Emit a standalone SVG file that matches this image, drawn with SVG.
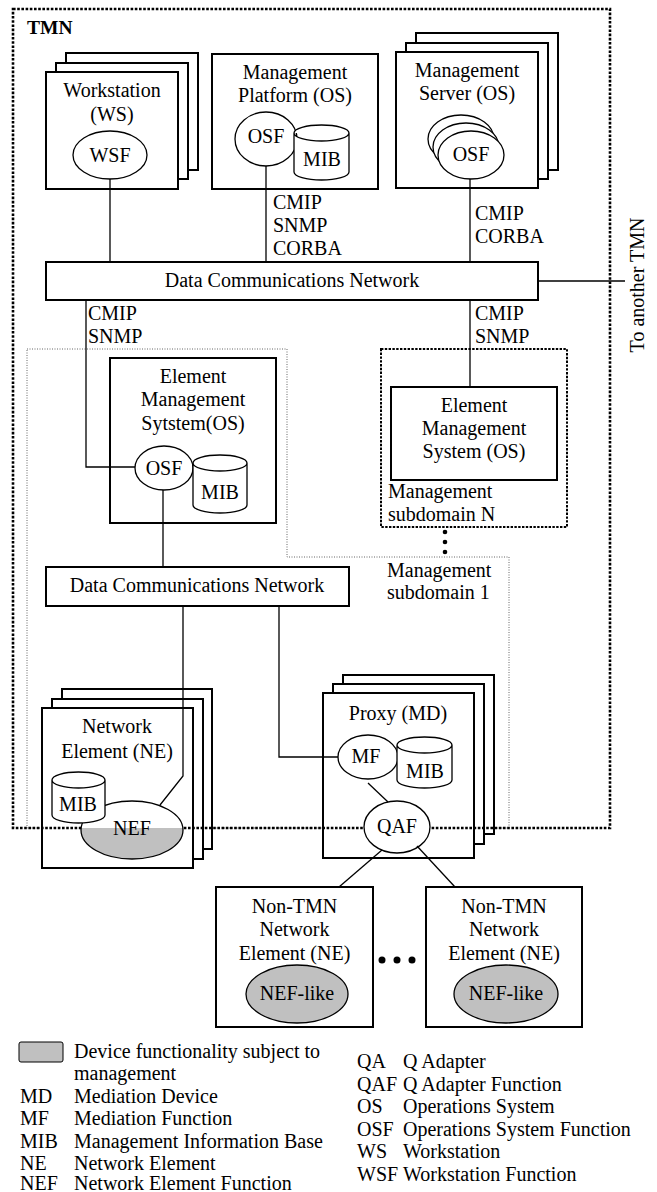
<svg xmlns="http://www.w3.org/2000/svg" width="657" height="1192" viewBox="0 0 657 1192" font-family="'Liberation Serif', 'DejaVu Serif', serif">
<style>
text{font-family:'Liberation Serif','DejaVu Serif',serif;font-size:20px;fill:#000}
.c{text-anchor:middle}
.b{font-weight:bold;font-size:19.5px}
.box{fill:#fff;stroke:#000;stroke-width:2}
.el{fill:#fff;stroke:#000;stroke-width:1.3}
.gray{fill:#c0c0c0;stroke:#000;stroke-width:1.3}
.cyl{fill:#fff;stroke:#000;stroke-width:1.3}
.ln{fill:none;stroke:#000;stroke-width:1.3}
.tmn{fill:none;stroke:#000;stroke-width:2.6;stroke-dasharray:2.6 1.6}
.sdn{fill:none;stroke:#000;stroke-width:2;stroke-dasharray:2.4 1.4}
.sd1{fill:none;stroke:#666;stroke-width:1;stroke-dasharray:1 1.5}
</style>
<defs>
<clipPath id="lowerNEF"><rect x="70" y="828" width="130" height="40"/></clipPath>
<mask id="tmnMask" maskUnits="userSpaceOnUse" x="0" y="0" width="657" height="1192">
<rect x="0" y="0" width="657" height="1192" fill="#fff"/>
<ellipse cx="132" cy="830" rx="51" ry="29" fill="#000"/>
<ellipse cx="397" cy="827" rx="33" ry="26" fill="#000"/>
</mask>
</defs>

<g id="subdomain1">
<polygon class="sd1" points="27,349 287,349 287,557 509,557 509,828 27,828"/>
<text x="387" y="577">Management</text>
<text x="387" y="599">subdomain 1</text>
</g>

<g id="subdomainN">
<rect class="sdn" x="381" y="349" width="186" height="178"/>
<text x="388" y="498">Management</text>
<text x="388" y="521">subdomain N</text>
<circle cx="445" cy="532" r="2.3"/>
<circle cx="445" cy="542" r="2.3"/>
<circle cx="445" cy="552" r="2.3"/>
</g>

<g id="workstation">
<rect class="box" x="66" y="53" width="132" height="117"/>
<rect class="box" x="56" y="63" width="132" height="116"/>
<rect class="box" x="46" y="72" width="132" height="117"/>
<text class="c" x="112" y="97">Workstation</text>
<text class="c" x="112" y="121">(WS)</text>
<ellipse class="el" cx="110" cy="155" rx="37" ry="24"/>
<text class="c" x="110" y="162">WSF</text>
</g>

<g id="platform">
<rect class="box" x="212" y="54" width="166" height="135"/>
<text class="c" x="295" y="79">Management</text>
<text class="c" x="295" y="102">Platform (OS)</text>
<ellipse class="el" cx="266" cy="139" rx="31" ry="27"/>
<text class="c" x="266" y="143">OSF</text>
<path class="cyl" d="M294,133 A27.5,8 0 0 1 349,133 V172 A27.5,8 0 0 1 294,172 Z M294,133 A27.5,8 0 0 0 349,133"/>
<text class="c" x="322" y="166">MIB</text>
</g>

<g id="server">
<rect class="box" x="416" y="33" width="142" height="137"/>
<rect class="box" x="406" y="43" width="142" height="136"/>
<rect class="box" x="396" y="52" width="142" height="136"/>
<text class="c" x="467" y="77">Management</text>
<text class="c" x="467" y="100">Server (OS)</text>
<ellipse class="el" cx="461" cy="139" rx="33" ry="24"/>
<ellipse class="el" cx="466" cy="147" rx="33" ry="24"/>
<ellipse class="el" cx="471" cy="155" rx="33" ry="24"/>
<text class="c" x="471" y="161">OSF</text>
</g>

<g id="dcn1">
<rect class="box" x="46" y="262" width="492" height="38"/>
<text class="c" x="292" y="287" font-size="20.4">Data Communications Network</text>
</g>

<g id="ems1">
<rect class="box" x="110" y="358" width="166" height="165"/>
<text class="c" x="193" y="383">Element</text>
<text class="c" x="193" y="406">Management</text>
<text class="c" x="193" y="430">Sytstem(OS)</text>
<ellipse class="el" cx="164" cy="468" rx="29" ry="22"/>
<text class="c" x="164" y="475">OSF</text>
<path class="cyl" d="M193,463 A27,8 0 0 1 247,463 V505 A27,8 0 0 1 193,505 Z M193,463 A27,8 0 0 0 247,463"/>
<text class="c" x="220" y="499">MIB</text>
</g>

<g id="emsN">
<rect class="box" x="391" y="387" width="166" height="93"/>
<text class="c" x="474" y="412">Element</text>
<text class="c" x="474" y="435">Management</text>
<text class="c" x="474" y="458">System (OS)</text>
</g>

<g id="dcn2">
<rect class="box" x="46" y="567" width="303" height="39"/>
<text class="c" x="197" y="592" font-size="20.4">Data Communications Network</text>
</g>

<g id="ne">
<rect class="box" x="62" y="689" width="150" height="160"/>
<rect class="box" x="52" y="699" width="151" height="160"/>
<rect class="box" x="42" y="708" width="151" height="160"/>
<text class="c" x="117" y="733">Network</text>
<text class="c" x="117" y="758">Element (NE)</text>
<ellipse cx="132" cy="830" rx="51" ry="29" fill="#fff"/>
<ellipse cx="132" cy="830" rx="51" ry="29" fill="#c0c0c0" clip-path="url(#lowerNEF)"/>
<ellipse cx="132" cy="830" rx="51" ry="29" fill="none" stroke="#000" stroke-width="1.3"/>
<path class="cyl" d="M52,780 A26.5,8 0 0 1 105,780 V815 A26.5,8 0 0 1 52,815 Z M52,780 A26.5,8 0 0 0 105,780"/>
<text class="c" x="78" y="811">MIB</text>
<text class="c" x="132" y="835">NEF</text>
</g>

<g id="proxy">
<rect class="box" x="343" y="675" width="151" height="159"/>
<rect class="box" x="333" y="684" width="151" height="160"/>
<rect class="box" x="323" y="693" width="151" height="165"/>
<text class="c" x="398" y="720">Proxy (MD)</text>
<ellipse class="el" cx="368" cy="757" rx="30" ry="22"/>
<text class="c" x="366" y="763">MF</text>
<path class="cyl" d="M397,745 A27.5,8 0 0 1 452,745 V780 A27.5,8 0 0 1 397,780 Z M397,745 A27.5,8 0 0 0 452,745"/>
<text class="c" x="425" y="778">MIB</text>
<ellipse class="el" cx="397" cy="827" rx="33" ry="26"/>
<text class="c" x="397" y="833">QAF</text>
</g>

<g id="nontmn1">
<rect class="box" x="216" y="887" width="157" height="140"/>
<text class="c" x="294.5" y="913">Non-TMN</text>
<text class="c" x="294.5" y="936">Network</text>
<text class="c" x="294.5" y="960">Element (NE)</text>
<ellipse class="gray" cx="297" cy="994" rx="51" ry="29"/>
<text class="c" x="297" y="1000">NEF-like</text>
</g>

<g id="nontmn2">
<rect class="box" x="426" y="887" width="156" height="140"/>
<text class="c" x="504" y="913">Non-TMN</text>
<text class="c" x="504" y="936">Network</text>
<text class="c" x="504" y="960">Element (NE)</text>
<ellipse class="gray" cx="506" cy="994" rx="52" ry="29"/>
<text class="c" x="506" y="1000">NEF-like</text>
</g>

<g id="ellipsis">
<circle cx="382" cy="960" r="3.5"/>
<circle cx="397" cy="960" r="3.5"/>
<circle cx="412" cy="960" r="3.5"/>
</g>

<g id="connectors">
<path class="ln" d="M110,179 V262"/>
<path class="ln" d="M266,166 V262"/>
<path class="ln" d="M470,179 V262"/>
<path class="ln" d="M538,281 H625"/>
<path class="ln" d="M86,300 V467 H135"/>
<path class="ln" d="M470,300 V387"/>
<path class="ln" d="M163,490 V567"/>
<path class="ln" d="M183,606 V776 L160,805"/>
<path class="ln" d="M279,606 V757 H338"/>
<path class="ln" d="M368,783 L388,802"/>
<path class="ln" d="M382,850 L339,887"/>
<path class="ln" d="M417,846 L455,887"/>
</g>

<g id="labels">
<text x="273" y="209">CMIP</text>
<text x="273" y="232">SNMP</text>
<text x="273" y="255">CORBA</text>
<text x="475" y="220">CMIP</text>
<text x="475" y="243">CORBA</text>
<text x="88" y="320">CMIP</text>
<text x="88" y="343">SNMP</text>
<text x="475" y="320">CMIP</text>
<text x="475" y="343">SNMP</text>
<text class="c" transform="translate(644,285) rotate(-90)">To another TMN</text>
</g>

<g id="tmn">
<rect class="tmn" x="13" y="9" width="597" height="819" mask="url(#tmnMask)"/>
<text class="b" x="27" y="34">TMN</text>
</g>

<g id="legend">
<rect x="19" y="1042" width="44" height="20" rx="2" fill="#c0c0c0" stroke="#000" stroke-width="1"/>
<text x="74" y="1058">Device functionality subject to</text>
<text x="74" y="1080">management</text>
<text x="20" y="1103">MD</text><text x="74" y="1103">Mediation Device</text>
<text x="20" y="1125">MF</text><text x="74" y="1125">Mediation Function</text>
<text x="20" y="1148">MIB</text><text x="74" y="1148">Management Information Base</text>
<text x="20" y="1170">NE</text><text x="74" y="1170">Network Element</text>
<text x="20" y="1190">NEF</text><text x="74" y="1190">Network Element Function</text>
<text x="357" y="1068">QA</text><text x="403" y="1068">Q Adapter</text>
<text x="357" y="1091">QAF</text><text x="403" y="1091">Q Adapter Function</text>
<text x="357" y="1113">OS</text><text x="403" y="1113">Operations System</text>
<text x="357" y="1136">OSF</text><text x="403" y="1136">Operations System Function</text>
<text x="357" y="1158">WS</text><text x="403" y="1158">Workstation</text>
<text x="357" y="1181">WSF</text><text x="403" y="1181">Workstation Function</text>
</g>
</svg>
